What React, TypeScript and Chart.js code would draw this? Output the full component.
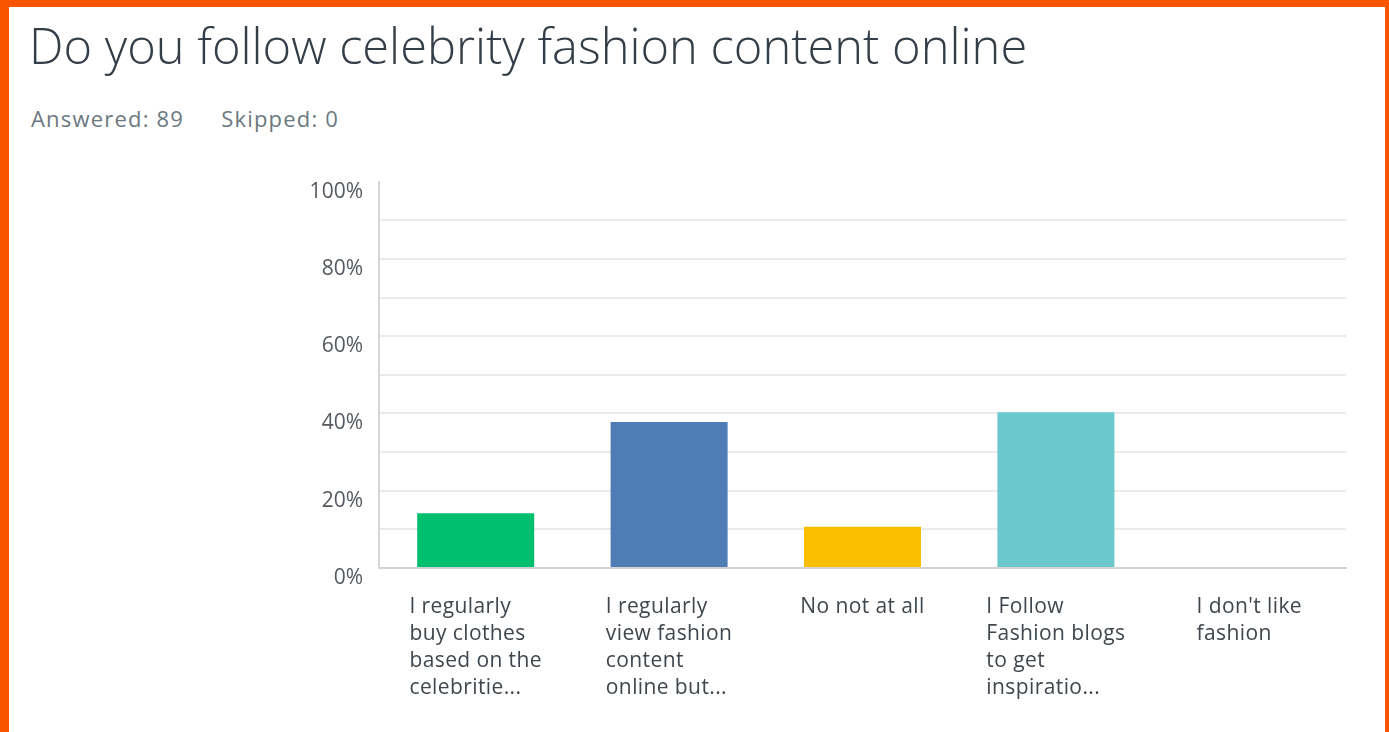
import React, { useEffect, useRef } from "react";
import { Chart, registerables } from "chart.js";

Chart.register(...registerables);

const titleText = "Do you follow celebrity fashion content online";
const answeredText = "Answered: 89";
const skippedText = "Skipped: 0";

const categories: string[][] = [
  ["I regularly", "buy clothes", "based on the", "celebritie..."],
  ["I regularly", "view fashion", "content", "online but..."],
  ["No not at all"],
  ["I Follow", "Fashion blogs", "to get", "inspiratio..."],
  ["I don't like", "fashion"],
];
const values: number[] = [14.2, 37.8, 10.7, 40.3, 0];
const barColors: string[] = ["#00bf6f", "#507cb6", "#f9be00", "#6bc8cd", "#ff8b4f"];
const yTicks: number[] = [0, 10, 20, 30, 40, 50, 60, 70, 80, 90, 100];

const FONT = "'Open Sans', 'Noto Sans', sans-serif";

const xLabelPlugin = {
  id: "xLabelPlugin",
  afterDraw(chart: any) {
    const ctx = chart.ctx;
    const xs = chart.scales.x;
    const base = chart.chartArea.bottom;
    ctx.save();
    ctx.font = `21px ${FONT}`;
    try {
      (ctx as any).letterSpacing = "0.4px";
    } catch (e) {}
    ctx.fillStyle = "#3f464d";
    ctx.textAlign = "left";
    ctx.textBaseline = "alphabetic";
    categories.forEach((lines, i) => {
      const maxW = Math.max(...lines.map((l) => ctx.measureText(l).width));
      const x0 = xs.getPixelForValue(i) - maxW / 2;
      lines.forEach((l, j) => {
        ctx.fillText(l, x0, base + 45 + j * 27);
      });
    });
    ctx.restore();
  },
};

export default function App() {
  const canvasRef = useRef<HTMLCanvasElement | null>(null);

  useEffect(() => {
    document.body.style.margin = "0";
    const canvas = canvasRef.current;
    if (!canvas) return;
    const chart = new Chart(canvas, {
      type: "bar",
      data: {
        labels: categories.map((c) => c.join(" ")),
        datasets: [
          {
            data: values,
            backgroundColor: barColors,
            borderWidth: 0,
            barPercentage: 0.605,
            categoryPercentage: 1,
          },
        ],
      },
      plugins: [xLabelPlugin],
      options: {
        responsive: false,
        animation: false,
        maintainAspectRatio: false,
        layout: { padding: { left: 0, right: 39, top: 14, bottom: 164 } },
        plugins: {
          legend: { display: false },
          tooltip: { enabled: false },
          title: { display: false },
        },
        scales: {
          x: {
            ticks: { display: false },
            grid: { display: false, drawTicks: false },
            border: { display: true, color: "#d3d3d3", width: 2 },
          },
          y: {
            min: 0,
            max: 100,
            afterFit: (scale: any) => {
              scale.width = 370;
            },
            afterBuildTicks: (scale: any) => {
              scale.ticks = yTicks.map((v) => ({ value: v }));
            },
            ticks: {
              stepSize: 10,
              padding: 16,
              labelOffset: 10,
              color: "#555a60",
              font: { family: FONT, size: 21 },
              callback: (v: any) => (Number(v) % 20 === 0 ? `${v}%` : ""),
            },
            grid: {
              drawTicks: false,
              color: (c: any) =>
                c.tick && (c.tick.value === 100 || c.tick.value === 0) ? "rgba(0,0,0,0)" : "#ebebeb",
              lineWidth: 2,
            },
            border: { display: true, color: "#d6d6d6", width: 2 },
          },
        },
      },
    });
    return () => chart.destroy();
  }, []);

  return (
    <div
      style={{
        position: "relative",
        width: 1389,
        height: 732,
        background: "#fa5400",
        overflow: "hidden",
      }}
    >
      <div
        style={{
          position: "absolute",
          left: 9,
          top: 7,
          width: 1376,
          height: 725,
          background: "#ffffff",
        }}
      />
      <div
        style={{
          position: "absolute",
          left: 29,
          top: 15,
          fontFamily: FONT,
          fontWeight: 300,
          fontSize: 48.8,
          lineHeight: "60px",
          color: "#333e48",
          whiteSpace: "nowrap",
        }}
      >
        {titleText}
      </div>
      <div
        style={{
          position: "absolute",
          left: 31,
          top: 103,
          fontFamily: FONT,
          fontSize: 22,
          letterSpacing: "1.2px",
          lineHeight: "30px",
          color: "#6b787f",
          whiteSpace: "nowrap",
        }}
      >
        <span>{answeredText}</span>
        <span style={{ marginLeft: 37 }}>{skippedText}</span>
      </div>
      <canvas
        ref={canvasRef}
        width={1376}
        height={579}
        style={{ position: "absolute", left: 9, top: 153, width: 1376, height: 579 }}
      />
    </div>
  );
}
